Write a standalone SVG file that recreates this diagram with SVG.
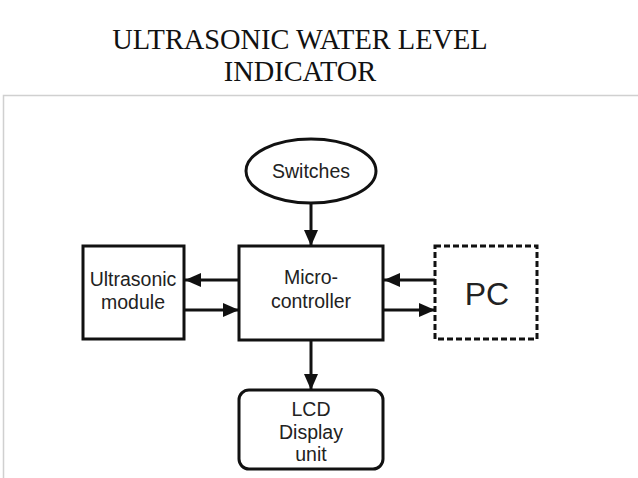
<svg xmlns="http://www.w3.org/2000/svg" width="638" height="478" viewBox="0 0 638 478">
<defs>
<style>
.box{fill:#fff;stroke:#111;stroke-width:3}
.lbl{font-family:"Liberation Sans",Arial,sans-serif;font-size:19.5px;fill:#222;text-anchor:middle}
.con{stroke:#111;stroke-width:3;fill:none}
.title{font-family:"Liberation Serif","Times New Roman",serif;font-size:28.4px;fill:#111;text-anchor:middle}
</style>
<marker id="ah" viewBox="0 0 16 14" refX="16" refY="7" markerWidth="16" markerHeight="14" markerUnits="userSpaceOnUse" orient="auto">
<path d="M0,0 L16,7 L0,14 Z" fill="#111"/>
</marker>
</defs>
<rect width="638" height="478" fill="#fff"/>
<text class="title" x="300" y="49">ULTRASONIC WATER LEVEL</text>
<text class="title" x="300" y="81">INDICATOR</text>
<path d="M3.5,478 V95.5 H638" fill="none" stroke="#d0d0d0" stroke-width="1.5"/>
<g id="switches">
<ellipse class="box" cx="311" cy="171" rx="65" ry="32"/>
<text class="lbl" x="311" y="178">Switches</text>
</g>
<g id="microcontroller">
<rect class="box" x="239" y="246" width="144" height="94"/>
<text class="lbl" x="311" y="284">Micro-</text>
<text class="lbl" x="311" y="308">controller</text>
</g>
<g id="ultrasonic">
<rect class="box" x="83" y="246" width="101" height="93"/>
<text class="lbl" x="133" y="286">Ultrasonic</text>
<text class="lbl" x="133" y="309">module</text>
</g>
<g id="pc">
<rect class="box" x="435" y="246" width="102" height="93" stroke-dasharray="6,3"/>
<text class="lbl" x="487" y="305" style="font-size:32px">PC</text>
</g>
<g id="lcd">
<rect class="box" x="239" y="390" width="144" height="79" rx="10"/>
<text class="lbl" x="311" y="416">LCD</text>
<text class="lbl" x="311" y="439">Display</text>
<text class="lbl" x="311" y="461">unit</text>
</g>
<g id="connectors">
<line class="con" x1="311" y1="203" x2="311" y2="246" marker-end="url(#ah)"/>
<line class="con" x1="239" y1="280" x2="185" y2="280" marker-end="url(#ah)"/>
<line class="con" x1="184" y1="310" x2="239" y2="310" marker-end="url(#ah)"/>
<line class="con" x1="435" y1="280" x2="384" y2="280" marker-end="url(#ah)"/>
<line class="con" x1="383" y1="310" x2="435" y2="310" marker-end="url(#ah)"/>
<line class="con" x1="311" y1="340" x2="311" y2="390" marker-end="url(#ah)"/>
</g>
</svg>
